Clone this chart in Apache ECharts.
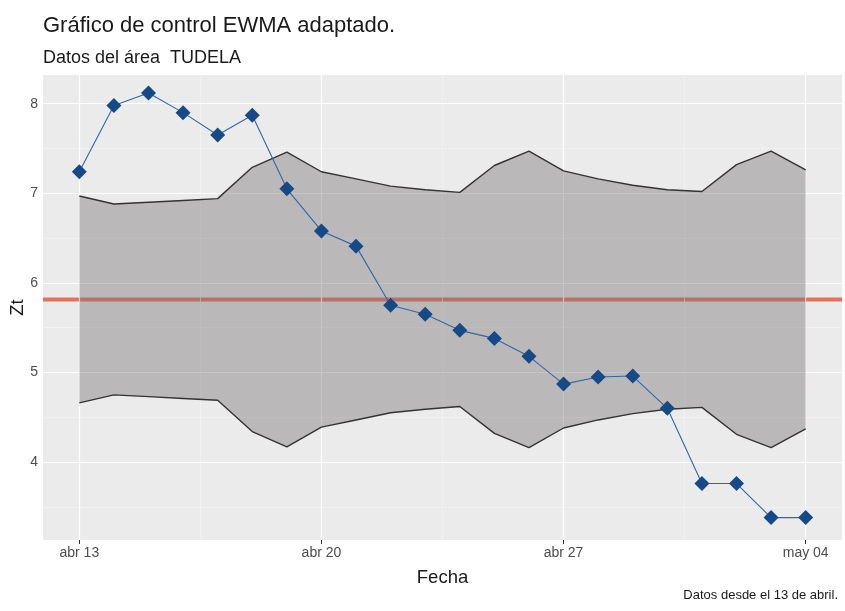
<!DOCTYPE html>
<html>
<head>
<meta charset="utf-8">
<script src="https://cdn.jsdelivr.net/npm/echarts@6/dist/echarts.min.js"></script>
<style>
html,body{margin:0;padding:0;background:#fff;}
#chart{width:845px;height:611px;}
</style>
</head>
<body>
<div id="chart"></div>
<script>
// ---- data ----
const fechas = ['abr 13','abr 14','abr 15','abr 16','abr 17','abr 18','abr 19','abr 20','abr 21','abr 22','abr 23',
                'abr 24','abr 25','abr 26','abr 27','abr 28','abr 29','abr 30','may 01','may 02','may 03','may 04'];
const zt  = [7.24, 7.98, 8.12, 7.90, 7.65, 7.87, 7.05, 6.58, 6.41, 5.75, 5.65, 5.47, 5.38, 5.18, 4.87, 4.95, 4.96, 4.60, 3.76, 3.76, 3.38, 3.38];
const lcs = [6.97, 6.88, 6.90, 6.92, 6.94, 7.29, 7.46, 7.24, 7.16, 7.08, 7.04, 7.01, 7.31, 7.47, 7.25, 7.16, 7.09, 7.04, 7.02, 7.32, 7.47, 7.26];
const lci = [4.66, 4.75, 4.73, 4.71, 4.69, 4.34, 4.17, 4.39, 4.47, 4.55, 4.59, 4.62, 4.32, 4.16, 4.38, 4.47, 4.54, 4.59, 4.61, 4.31, 4.16, 4.37];
const lineaCentral = 5.815;
const xTickLabels = ['abr 13','abr 20','abr 27','may 04'];
const yTicks = [4, 5, 6, 7, 8];
const yMinor = [3.5, 4.5, 5.5, 6.5, 7.5];

// ---- build ----
const X_MIN = -1.05, X_MAX = 22.05;
const xTicks = xTickLabels.map(l => fechas.indexOf(l));
const xMinor = xTicks.slice(0, -1).map((v, i) => (v + xTicks[i + 1]) / 2);
const pts = arr => arr.map((v, i) => [i, v]);
const FONT = '"Liberation Sans", Arial, sans-serif';

const gridLines = [].concat(
  yMinor.map(v => ({yAxis: v, lineStyle: {width: 0.6, color: '#F5F5F5', type: 'solid'}})),
  xMinor.map(v => ({xAxis: v, lineStyle: {width: 0.6, color: '#F5F5F5', type: 'solid'}})),
  yTicks.map(v => ({yAxis: v, lineStyle: {width: 1.2, color: '#FFFFFF', type: 'solid'}})),
  xTicks.map(v => ({xAxis: v, lineStyle: {width: 1.2, color: '#FFFFFF', type: 'solid'}}))
);

function renderBand(params, api) {
  if (params.dataIndex !== 0) return null;
  const top = [], bot = [];
  for (let i = 0; i < lcs.length; i++) {
    top.push(api.coord([i, lcs[i]]));
    bot.push(api.coord([i, lci[i]]));
  }
  return {
    type: 'polygon',
    shape: {points: top.concat(bot.reverse())},
    style: {fill: 'rgba(120,115,117,0.42)', stroke: null}
  };
}

const chart = echarts.init(document.getElementById('chart'), null, {renderer: 'canvas'});
chart.setOption({
  animation: false,
  backgroundColor: '#FFFFFF',
  textStyle: {fontFamily: FONT},
  title: [
    {text: 'Gráfico de control EWMA adaptado.', left: 38, top: 10,
     textStyle: {fontFamily: FONT, fontSize: 22, fontWeight: 'normal', color: '#1a1a1a'}},
    {text: 'Datos del área  TUDELA', left: 38, top: 44,
     textStyle: {fontFamily: FONT, fontSize: 18, fontWeight: 'normal', color: '#1a1a1a'}},
    {text: 'Datos desde el 13 de abril.', right: 2, bottom: 4,
     textStyle: {fontFamily: FONT, fontSize: 13, fontWeight: 'normal', color: '#1a1a1a'}}
  ],
  grid: {left: 43, right: 3, top: 75, bottom: 71, show: true, backgroundColor: '#EBEBEB', borderWidth: 0,
         containLabel: false, outerBoundsMode: 'none'},
  xAxis: {
    type: 'value', min: X_MIN, max: X_MAX,
    name: 'Fecha', nameLocation: 'middle', nameGap: 28, nameMoveOverlap: false,
    nameTextStyle: {fontFamily: FONT, fontSize: 18.5, color: '#1a1a1a'},
    axisLine: {show: false},
    axisTick: {show: true, length: 4, lineStyle: {color: '#333333', width: 1}, customValues: xTicks},
    axisLabel: {customValues: xTicks, formatter: v => fechas[Math.round(v)], fontFamily: FONT, fontSize: 14, color: '#4D4D4D', margin: 6},
    splitLine: {show: false}
  },
  yAxis: {
    type: 'value', min: 3.13, max: 8.32,
    name: 'Zt', nameLocation: 'middle', nameGap: 16, nameRotate: 90, nameMoveOverlap: false,
    nameTextStyle: {fontFamily: FONT, fontSize: 18.5, color: '#1a1a1a'},
    axisLine: {show: false},
    axisTick: {show: true, length: 4, lineStyle: {color: '#333333', width: 1}, customValues: yTicks},
    axisLabel: {customValues: yTicks, fontFamily: FONT, fontSize: 14, color: '#4D4D4D', margin: 5},
    splitLine: {show: false}
  },
  series: [
    {name: 'grid', type: 'line', data: pts(zt), z: 1, symbol: 'none', silent: true,
     lineStyle: {opacity: 0},
     markLine: {silent: true, symbol: 'none', label: {show: false}, animation: false, data: gridLines}},
    {name: 'central', type: 'line', data: [[X_MIN, lineaCentral], [X_MAX, lineaCentral]], z: 2, symbol: 'none', silent: true,
     lineStyle: {color: '#E8705A', width: 4}},
    {name: 'banda', type: 'custom', renderItem: renderBand, zlevel: 1, z: 3, silent: true,
     data: lcs.map((v, i) => [i, v, lci[i]]), encode: {x: 0, y: [1, 2]}},
    {name: 'LCS', type: 'line', data: pts(lcs), zlevel: 1, z: 4, symbol: 'none', lineStyle: {color: '#333333', width: 1.4}},
    {name: 'LCI', type: 'line', data: pts(lci), zlevel: 1, z: 4, symbol: 'none', lineStyle: {color: '#333333', width: 1.4}},
    {name: 'Zt', type: 'line', data: pts(zt), zlevel: 1, z: 5, symbol: 'diamond', symbolSize: 15, showSymbol: true,
     lineStyle: {color: '#3466A4', width: 1.1}, itemStyle: {color: '#164A86'}}
  ]
});
</script>
</body>
</html>
